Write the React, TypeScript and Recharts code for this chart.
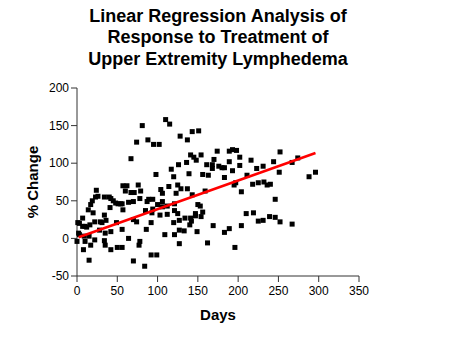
import { Label, Scatter, ScatterChart, XAxis, YAxis } from 'recharts';

// days after start of treatment
const days = [
  81, 110, 115, 128, 74, 88, 95, 102, 67, 126, 117, 98, 120,
  143, 151, 137, 193, 189, 198, 174, 141, 145, 148, 154, 136, 170, 161, 168, 168, 176, 180, 183, 189, 193,
  202, 202, 216, 223, 231, 244, 252, 139, 156, 163, 183, 211,
  251, 125, 129, 137, 143, 159, 197, 195, 204, 218, 225, 232, 236, 240, 246, 121, 150, 153, 156, 147, 147,
  154, 134, 141, 142, 127, 120, 140, 169, 210, 219, 225, 231, 239, 246, 252, 204, 127, 133, 121, 149, 189,
  183, 127, 162, 196,
  267, 274, 288, 296, 267,
  57, 62, 76, 24, 114, 60, 67, 71, 79, 104, 106, 123, 23, 26, 34, 40, 42, 45, 19, 17, 48, 51, 54, 56, 64,
  70, 78, 87, 89, 94, 100, 106, 112, 14, 41, 57, 85, 94, 106, 20, 34, 93, 112, 121, 125, 7, 22, 29, 31, 36,
  49, 70, 74, 92, 103, 1, 3, 7, 10, 12, 16, 28, 35, 42, 56, 86, 2, 3, 9, 15, 10, 22, 0, 17, 8, 34, 64, 78,
  77, 109, 35, 42, 50, 56, 70, 92, 99, 15, 84,
];

// % change in limb volume, same order as days
const change = [
  150, 158, 152, 136, 128, 131, 125, 125, 106, 98, 92, 85, 82,
  142, 143, 131, 118, 116, 117, 116, 111, 108, 104, 111, 101, 105, 98, 98, 93, 96, 94, 94, 102, 90,
  108, 97, 104, 93, 96, 102, 115, 86, 85, 84, 81, 84,
  88, 71, 66, 66, 58, 63, 74, 71, 62, 72, 74, 75, 71, 72, 52, 46, 45, 43, 35, 33, 30,
  29, 27, 27, 23, 24, 21, 18, 17, 33, 34, 23, 24, 29, 28, 22, 17, 11, 10, 5, 9, 13,
  8, -7, -6, -12,
  101, 107, 82, 88, 19,
  70, 70, 71, 64, 69, 63, 61, 61, 63, 65, 60, 60, 55, 56, 55, 55, 53, 50, 50, 45, 47, 46, 46, 46, 48,
  49, 53, 49, 52, 52, 45, 49, 43, 38, 41, 38, 37, 39, 42, 34, 31, 34, 32, 37, 33, 27, 22, 22, 21, 24,
  21, 25, 22, 21, 31, 21, 20, 16, 16, 15, 18, 11, 7, 9, 12, 12, 7, 5, 3, 3, -4, -2, -4, -9, -15, -3, 0, -4,
  -9, 5, -9, -15, -12, -12, -30, -22, -22, -29, -37,
];

// fitted regression line, end points
const fitDays = [2, 296];
const fitChange = [1.5, 113.5];

const xTicks = [0, 50, 100, 150, 200, 250, 300, 350];
const yTicks = [-50, 0, 50, 100, 150, 200];

const titleLines = [
  'Linear Regression Analysis of',
  'Response to Treatment of',
  'Upper Extremity Lymphedema',
];

const points = days.map((d, i) => ({ day: d, pct: change[i] }));
const fit = fitDays.map((d, i) => ({ day: d, pct: fitChange[i] }));

const font = '"Liberation Sans", Arial, Helvetica, sans-serif';

// small filled square marker
function Dot(props: any) {
  const { cx, cy } = props;
  if (cx == null || cy == null) return <g />;
  return <rect x={cx - 2.5} y={cy - 2.5} width={5} height={5} fill="#000" />;
}

export default function App() {
  return (
    <div style={{ position: 'absolute', left: 0, top: 0, width: 450, height: 338, fontFamily: font, background: '#fff' }}>
      <div
        style={{
          position: 'absolute',
          left: 0,
          top: 6,
          width: 436,
          textAlign: 'center',
          fontSize: 18,
          fontWeight: 'bold',
          lineHeight: '21.3px',
          color: '#000',
        }}
      >
        {titleLines.map((t) => (
          <div key={t}>{t}</div>
        ))}
      </div>
      <ScatterChart width={450} height={338} margin={{ top: 88, right: 91, bottom: 32, left: 27 }}>
        <XAxis
          type="number"
          dataKey="day"
          domain={[0, 350]}
          ticks={xTicks}
          height={30}
          tickMargin={4}
          stroke="#333"
          tick={{ fill: '#000', fontSize: 12, fontFamily: font }}
        >
          <Label value="Days" position="bottom" offset={3} style={{ fontSize: 15, fontWeight: 'bold', fill: '#000', fontFamily: font }} />
        </XAxis>
        <YAxis
          type="number"
          dataKey="pct"
          domain={[-50, 200]}
          ticks={yTicks}
          width={50}
          stroke="#333"
          tick={{ fill: '#000', fontSize: 12, fontFamily: font }}
        >
          <Label
            value="% Change"
            angle={-90}
            position="insideLeft"
            offset={6}
            style={{ textAnchor: 'middle', fontSize: 15, fontWeight: 'bold', fill: '#000', fontFamily: font }}
          />
        </YAxis>
        <Scatter data={points} fill="#000" shape={<Dot />} isAnimationActive={false} />
        <Scatter
          data={fit}
          fill="none"
          line={{ stroke: '#ff0000', strokeWidth: 2.5 }}
          shape={() => <g />}
          isAnimationActive={false}
        />
      </ScatterChart>
    </div>
  );
}
